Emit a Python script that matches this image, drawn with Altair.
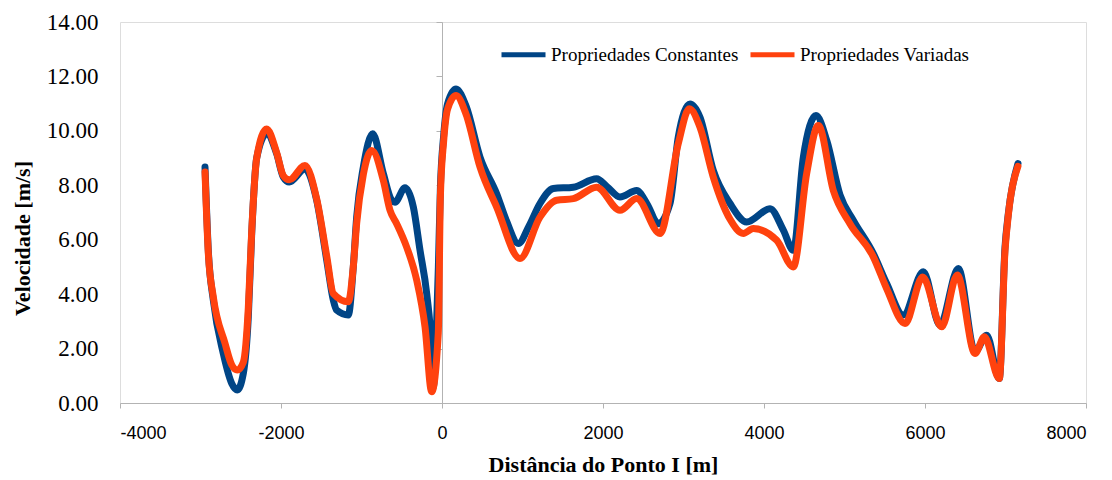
import altair as alt
import pandas as pd

series = ["Propriedades Constantes", "Propriedades Variadas"]
colors = ["#004586", "#ff420e"]

x_const = [-2944, -2903, -2841, -2717, -2612, -2543, -2468, -2406, -2364, -2302,
           -2178, -2054, -1971, -1897, -1702, -1557, -1432, -1350, -1308, -1164,
           -1102, -1060, -977, -861, -729, -625, -584, -460, -356, -273,
           -190, -128, -108, -75, -45, -20, 20, 70, 174, 300,
           472, 679, 800, 948, 1080, 1217, 1383, 1631, 1921, 2050,
           2211, 2418, 2550, 2687, 2832, 2935, 3081, 3205, 3370, 3578,
           3785, 4075, 4240, 4364, 4489, 4646, 4779, 4944, 5110, 5358,
           5524, 5730, 5979, 6186, 6414, 6621, 6766, 6923, 6994, 7035, 7155]
v_const = [8.67, 5.6, 3.78, 1.82, 0.72, 0.48, 1.09, 3.17, 6.22, 9.0,
           9.89, 9.16, 8.3, 8.12, 8.6, 7.45, 5.25, 3.78, 3.41, 3.23,
           5.0, 6.83, 8.67, 9.89, 8.43, 7.45, 7.38, 7.91, 7.2, 5.61,
           4.02, 1.94, 0.6, 2.2, 5.0, 7.9, 9.8, 11.0, 11.54, 10.9,
           9.04, 7.69, 6.7, 5.86, 6.5, 7.33, 7.88, 7.93, 8.24, 7.95,
           7.57, 7.81, 7.3, 6.59, 7.33, 9.77, 10.99, 10.5, 8.55, 7.33,
           6.65, 7.14, 6.35, 5.61, 9.04, 10.56, 9.65, 7.65, 6.71, 5.49,
           4.39, 3.23, 4.82, 2.86, 4.94, 1.88, 2.49, 0.9, 5.73, 6.96, 8.8]

x_var = [-2944, -2903, -2841, -2696, -2612, -2543, -2468, -2406, -2364, -2302,
         -2178, -2054, -1971, -1897, -1702, -1557, -1432, -1350, -1164, -1102,
         -1060, -977, -873, -729, -646, -563, -439, -314, -211, -128,
         -46, -20, 20, 70, 174, 300, 472, 679, 969, 1217,
         1424, 1631, 1921, 2211, 2418, 2708, 2935, 3072, 3205, 3370,
         3578, 3743, 3867, 4158, 4364, 4530, 4675, 4861, 5068, 5358,
         5524, 5752, 5971, 6207, 6401, 6621, 6737, 6923, 6994, 7035, 7155]
v_var = [8.49, 5.5, 3.9, 2.2, 1.4, 1.21, 1.5, 3.5, 6.3, 9.0,
         10.07, 9.2, 8.35, 8.2, 8.73, 7.5, 5.4, 4.02, 3.72, 5.0,
         6.6, 8.4, 9.28, 8.18, 7.08, 6.59, 5.73, 4.51, 2.8, 0.41,
         2.57, 7.6, 9.6, 10.8, 11.3, 10.6, 8.67, 7.2, 5.31, 6.83,
         7.45, 7.51, 7.93, 7.08, 7.51, 6.23, 9.53, 10.81, 10.13, 8.3,
         6.75, 6.23, 6.41, 5.98, 5.0, 8.43, 10.2, 7.81, 6.59, 5.37,
         4.2, 2.92, 4.63, 2.8, 4.7, 1.82, 2.43, 0.9, 5.6, 6.9, 8.7]

x_ticks = [-4000, -2000, 0, 2000, 4000, 6000, 8000]
y_ticks = [0, 2, 4, 6, 8, 10, 12, 14]
x_domain = [-4000, 8000]
y_domain = [0, 14]

W, H = 966, 381
zero_offset = -W * (0 - x_domain[0]) / (x_domain[1] - x_domain[0])

df = pd.concat([
    pd.DataFrame({"x": x_const, "v": v_const, "serie": series[0]}),
    pd.DataFrame({"x": x_var, "v": v_var, "serie": series[1]}),
], ignore_index=True)

gray = "#b3b3b3"

chart = alt.Chart(df).mark_line(
    strokeWidth=7, interpolate="monotone", strokeCap="round", strokeJoin="round"
).encode(
    x=alt.X("x:Q",
            scale=alt.Scale(domain=x_domain, nice=False, zero=False),
            axis=alt.Axis(values=x_ticks, title="Distância do Ponto I [m]", grid=False,
                          tickSize=5, tickColor=gray, domainColor=gray,
                          labelExpr="datum.value + ''",
                          labelFont="Liberation Sans", labelFontSize=18, labelColor="black",
                          labelPadding=16,
                          titleFont="Liberation Serif", titleFontSize=22, titleFontWeight="bold",
                          titleColor="black", titlePadding=12)),
    y=alt.Y("v:Q",
            scale=alt.Scale(domain=y_domain, nice=False),
            axis=alt.Axis(values=y_ticks, format=".2f", title="Velocidade [m/s]", grid=False,
                          offset=zero_offset, tickSize=6, tickColor=gray, domainColor=gray,
                          labelPadding=-zero_offset + 22 - 6,
                          labelFont="Liberation Serif", labelFontSize=23, labelColor="black",
                          titleFont="Liberation Serif", titleFontSize=22, titleFontWeight="bold",
                          titleColor="black", titleX=zero_offset - 98, titleY=216,
                          titleAlign="center", titleBaseline="middle", titleAngle=270)),
    color=alt.Color("serie:N",
                    scale=alt.Scale(domain=series, range=colors),
                    legend=alt.Legend(orient="none", legendX=379, legendY=8,
                                      direction="horizontal", title=None,
                                      symbolType="stroke", symbolSize=1936,
                                      symbolStrokeWidth=5, labelFont="Liberation Serif",
                                      labelFontSize=19, labelColor="black",
                                      labelOffset=3, columnPadding=1,
                                      labelLimit=400)),
).properties(
    width=W, height=H,
    autosize=alt.AutoSizeParams(type="none"),
    padding={"left": 112, "top": 14, "right": 10, "bottom": 76},
).configure_view(
    stroke=gray, strokeWidth=1
).configure(background="white")

chart.save("out.html", embed_options={"renderer": "svg", "actions": False})
